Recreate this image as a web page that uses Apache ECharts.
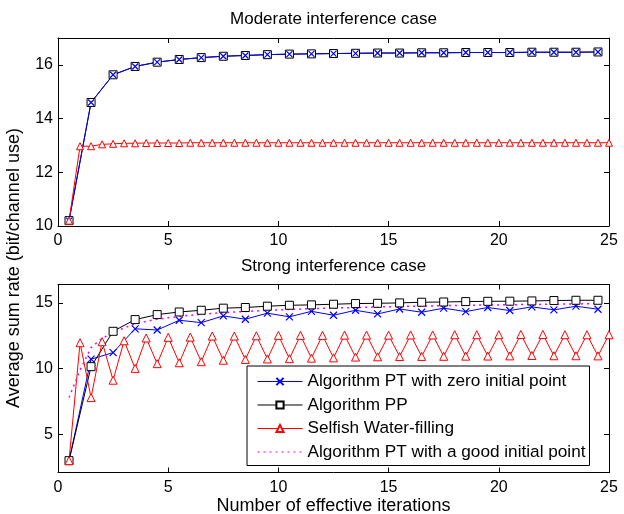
<!DOCTYPE html>
<html><head><meta charset="utf-8">
<script src="https://cdn.jsdelivr.net/npm/echarts@6/dist/echarts.min.js"></script>
<style>html,body{margin:0;padding:0;background:#fff}#c{width:624px;height:514px}</style>
</head><body><div id="c"></div>
<script>
// ---------- data ----------
const seriesNames = ['Algorithm PT with zero initial point','Algorithm PP','Selfish Water-filling','Algorithm PT with a good initial point'];
const xTicks = [0,5,10,15,20,25];
const yTicksTop = [10,12,14,16];
const yTicksBottom = [5,10,15];

// integer+0.5 iterations
const iterHalf = [0.5,1.5,2.5,3.5,4.5,5.5,6.5,7.5,8.5,9.5,10.5,11.5,12.5,13.5,14.5,15.5,16.5,17.5,18.5,19.5,20.5,21.5,22.5,23.5,24.5];
// 0.5-step iterations
const iterStep = [0.5,1,1.5,2,2.5,3,3.5,4,4.5,5,5.5,6,6.5,7,7.5,8,8.5,9,9.5,10,10.5,11,11.5,12,12.5,13,13.5,14,14.5,15,15.5,16,16.5,17,17.5,18,18.5,19,19.5,20,20.5,21,21.5,22,22.5,23,23.5,24,24.5,25];
const iterStepMag = [0.5,1,1.5,2,2.5,3,3.5,4,4.5,5,5.5,6,6.5,7,7.5,8,8.5,9,9.5,10,10.5,11,11.5,12,12.5,13,13.5,14,14.5,15,15.5,16,16.5,17,17.5,18,18.5,19,19.5,20,20.5,21,21.5,22,22.5,23,23.5,24,24.5];

// Moderate interference case
const topPT = [10.2,14.6,15.63,15.94,16.1,16.2,16.27,16.32,16.35,16.38,16.4,16.41,16.42,16.43,16.44,16.44,16.45,16.45,16.46,16.46,16.46,16.47,16.47,16.47,16.48];
const topPP = [10.2,14.6,15.63,15.94,16.1,16.2,16.27,16.32,16.35,16.38,16.4,16.41,16.42,16.43,16.44,16.44,16.45,16.45,16.46,16.46,16.46,16.47,16.47,16.47,16.48];
const topSWF = [10.2,12.97,12.97,13.04,13.06,13.08,13.08,13.09,13.09,13.09,13.09,13.1,13.1,13.1,13.1,13.1,13.1,13.1,13.1,13.1,13.1,13.1,13.1,13.1,13.1,13.1,13.1,13.1,13.1,13.1,13.1,13.1,13.1,13.1,13.1,13.1,13.1,13.1,13.1,13.1,13.1,13.1,13.1,13.1,13.1,13.1,13.1,13.1,13.1,13.1];

// Strong interference case
const botPT = [3.0,10.72,11.22,13.03,12.94,13.68,13.5,14.01,13.76,14.22,13.94,14.36,14.06,14.44,14.16,14.54,14.29,14.6,14.34,14.65,14.42,14.7,14.47,14.75,14.52];
const botPP = [3.0,10.15,12.84,13.73,14.11,14.31,14.44,14.6,14.65,14.75,14.82,14.85,14.9,14.95,14.97,15.0,15.05,15.07,15.1,15.12,15.13,15.15,15.18,15.2,15.2];
const botSWF = [3.0,11.97,7.8,12.05,9.12,12.12,10.02,12.33,10.38,12.38,10.45,12.4,10.53,12.48,10.64,12.48,10.7,12.5,10.74,12.53,10.76,12.53,10.8,12.53,10.82,12.55,10.88,12.55,10.9,12.55,10.92,12.56,10.93,12.56,10.94,12.58,10.95,12.58,10.96,12.58,10.97,12.6,11.0,12.6,10.98,12.58,10.98,12.58,10.97,12.58];
const botGood = [7.8,9.9,11.6,12.3,12.75,13.1,13.4,13.6,13.75,13.87,13.97,14.06,14.13,14.2,14.26,14.31,14.35,14.39,14.43,14.47,14.5,14.53,14.56,14.59,14.61,14.63,14.65,14.67,14.69,14.71,14.73,14.74,14.76,14.77,14.79,14.8,14.82,14.83,14.84,14.85,14.86,14.87,14.88,14.89,14.9,14.91,14.92,14.93,14.94];

// ---------- chart ----------
const FF = 'Liberation Sans, Arial, Helvetica, sans-serif';
const pair = (xs, ys) => xs.map((x, i) => [x, ys[i]]);
const chart = echarts.init(document.getElementById('c'), null, {renderer: 'canvas'});

const GL = 58, GW = 551, GH = 188, GT0 = 38, GT1 = 284.5;
const BLUE = '#0000ff', RED = '#ff0000', MAG = '#ff00ff';
const crossSym = 'path://M0 0L10 10M10 0L0 10';

function xAx(gi, pos, showLabel) {
  return {
    gridIndex: gi, type: 'value', min: 0, max: 25, interval: 5, position: pos,
    axisLine: {show: true, onZero: false, lineStyle: {color: '#000', width: 1}},
    axisTick: {show: true, inside: true, length: 5, lineStyle: {color: '#000', width: 1}},
    axisLabel: {show: showLabel, color: '#000', fontSize: 16, fontFamily: FF, margin: 7,
                customValues: xTicks},
    splitLine: {show: false}
  };
}
function yAx(gi, pos, showLabel, mn, mx, ticks) {
  return {
    gridIndex: gi, type: 'value', min: mn, max: mx, position: pos,
    axisLine: {show: true, onZero: false, lineStyle: {color: '#000', width: 1}},
    axisTick: {show: true, inside: true, length: 5, lineStyle: {color: '#000', width: 1}, customValues: ticks},
    axisLabel: {show: showLabel, color: '#000', fontSize: 16, fontFamily: FF, margin: 5, customValues: ticks},
    splitLine: {show: false}
  };
}

const option = {
  animation: false,
  backgroundColor: '#fff',
  grid: [
    {left: GL, top: GT0, width: GW, height: GH},
    {left: GL, top: GT1, width: GW, height: GH}
  ],
  xAxis: [xAx(0, 'bottom', true), xAx(0, 'top', false), xAx(1, 'bottom', true), xAx(1, 'top', false)],
  yAxis: [
    yAx(0, 'left', true, 10, 17, yTicksTop), yAx(0, 'right', false, 10, 17, yTicksTop),
    yAx(1, 'left', true, 2.1, 16.4, yTicksBottom), yAx(1, 'right', false, 2.1, 16.4, yTicksBottom)
  ],
  legend: {
    show: true, orient: 'vertical', left: 247, top: 366,
    data: [
      {name: seriesNames[0]},
      {name: seriesNames[1]},
      {name: seriesNames[2]},
      {name: seriesNames[3], itemStyle: {opacity: 0}}
    ],
    backgroundColor: '#fff', borderColor: '#000', borderWidth: 1,
    padding: [7, 4, 5, 10], itemGap: 6.5, itemWidth: 45, itemHeight: 9,
    selectedMode: false,
    lineStyle: {width: 1},
    textStyle: {color: '#000', fontSize: 17.2, fontFamily: FF}
  },
  graphic: [
    {type: 'text', x: 333.5, y: 19.5, style: {text: 'Moderate interference case', fill: '#000', font: '17px ' + FF, align: 'center', verticalAlign: 'middle'}},
    {type: 'text', x: 333.5, y: 266, style: {text: 'Strong interference case', fill: '#000', font: '17px ' + FF, align: 'center', verticalAlign: 'middle'}},
    {type: 'text', x: 333.5, y: 506, style: {text: 'Number of effective iterations', fill: '#000', font: '18px ' + FF, align: 'center', verticalAlign: 'middle'}},
    {type: 'text', x: 14, y: 268, rotation: Math.PI / 2, style: {text: 'Average sum rate (bit/channel use)', fill: '#000', font: '18px ' + FF, align: 'center', verticalAlign: 'middle'}}
  ],
  series: [
    // top plot
    {name: seriesNames[1], type: 'line', xAxisIndex: 0, yAxisIndex: 0, data: pair(iterHalf, topPP),
     symbol: 'rect', symbolSize: 8, lineStyle: {color: '#000', width: 1},
     itemStyle: {color: '#fff', borderColor: '#000', borderWidth: 1}},
    {name: seriesNames[0], type: 'line', xAxisIndex: 0, yAxisIndex: 0, data: pair(iterHalf, topPT),
     symbol: crossSym, symbolSize: 6, lineStyle: {color: BLUE, width: 1},
     itemStyle: {color: BLUE, borderColor: BLUE, borderWidth: 1.2}},
    {name: seriesNames[2], type: 'line', xAxisIndex: 0, yAxisIndex: 0, data: pair(iterStep, topSWF),
     symbol: 'triangle', symbolSize: 7, lineStyle: {color: RED, width: 1},
     itemStyle: {color: '#fff', borderColor: RED, borderWidth: 1}},
    // bottom plot
    {name: seriesNames[0], type: 'line', xAxisIndex: 2, yAxisIndex: 2, data: pair(iterHalf, botPT),
     symbol: crossSym, symbolSize: 7, lineStyle: {color: BLUE, width: 1},
     itemStyle: {color: BLUE, borderColor: BLUE, borderWidth: 1.2}},
    {name: seriesNames[1], type: 'line', xAxisIndex: 2, yAxisIndex: 2, data: pair(iterHalf, botPP),
     symbol: 'rect', symbolSize: 8, lineStyle: {color: '#000', width: 1},
     itemStyle: {color: '#fff', borderColor: '#000', borderWidth: 1}},
    {name: seriesNames[2], type: 'line', xAxisIndex: 2, yAxisIndex: 2, data: pair(iterStep, botSWF),
     symbol: 'triangle', symbolSize: 8, lineStyle: {color: RED, width: 1},
     itemStyle: {color: '#fff', borderColor: RED, borderWidth: 1}},
    {name: seriesNames[3], type: 'line', xAxisIndex: 2, yAxisIndex: 2, data: pair(iterStepMag, botGood),
     symbol: 'none', showSymbol: false, lineStyle: {color: MAG, width: 1.5, type: [2, 4]},
     itemStyle: {color: MAG}}
  ]
};
chart.setOption(option);
</script></body></html>
